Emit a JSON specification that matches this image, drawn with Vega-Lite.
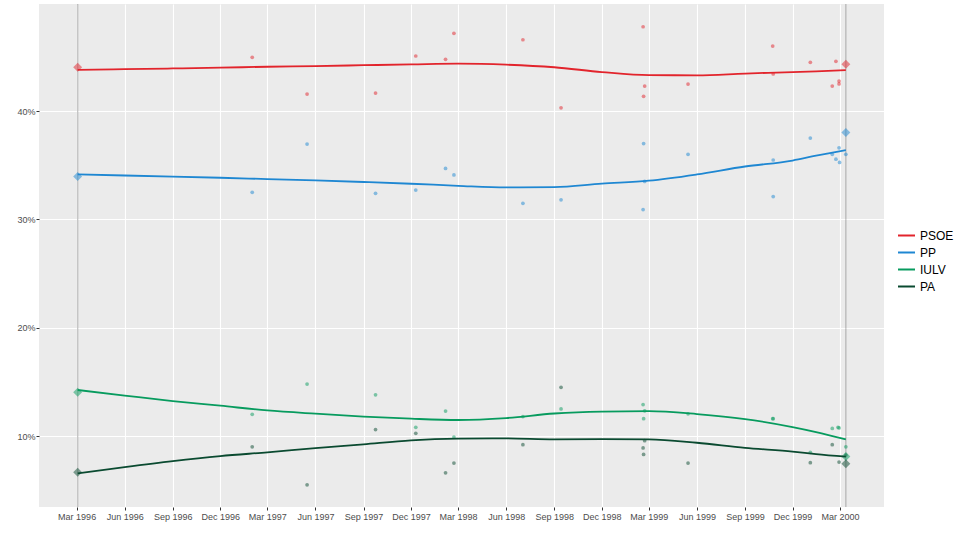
{
  "$schema": "https://vega.github.io/schema/vega-lite/v6.json",
  "width": 845,
  "height": 503,
  "autosize": {"type": "none"},
  "padding": {"left": 39, "top": 4, "right": 76, "bottom": 27},
  "background": "white",
  "config": {
    "font": "Liberation Sans",
    "view": {"fill": "#EBEBEB", "stroke": null},
    "axis": {
      "domain": false,
      "grid": true,
      "gridColor": "#FFFFFF",
      "gridWidth": 1.1,
      "tickColor": "#333333",
      "tickSize": 3,
      "labelColor": "#4D4D4D",
      "labelFontSize": 9,
      "title": null
    }
  },
  "datasets": {
    "elections": [
      {"date": "1996-03-03"},
      {"date": "2000-03-12"}
    ],
    "results": [
      {"date": "1996-03-03", "party": "PSOE", "pct": 44.05},
      {"date": "1996-03-03", "party": "PP", "pct": 33.96},
      {"date": "1996-03-03", "party": "IULV", "pct": 14.05},
      {"date": "1996-03-03", "party": "PA", "pct": 6.66},
      {"date": "2000-03-12", "party": "PSOE", "pct": 44.32},
      {"date": "2000-03-12", "party": "PP", "pct": 38.02},
      {"date": "2000-03-12", "party": "IULV", "pct": 8.11},
      {"date": "2000-03-12", "party": "PA", "pct": 7.44}
    ],
    "polls": [
      {"date": "1997-01-31", "party": "PSOE", "pct": 44.96},
      {"date": "1997-05-16", "party": "PSOE", "pct": 41.57},
      {"date": "1997-09-24", "party": "PSOE", "pct": 41.66},
      {"date": "1997-12-10", "party": "PSOE", "pct": 45.08},
      {"date": "1998-02-05", "party": "PSOE", "pct": 44.77},
      {"date": "1998-02-21", "party": "PSOE", "pct": 47.17},
      {"date": "1998-07-03", "party": "PSOE", "pct": 46.58},
      {"date": "1998-09-14", "party": "PSOE", "pct": 40.3},
      {"date": "1999-02-18", "party": "PSOE", "pct": 47.78},
      {"date": "1999-02-21", "party": "PSOE", "pct": 42.31},
      {"date": "1999-02-19", "party": "PSOE", "pct": 41.36},
      {"date": "1999-05-15", "party": "PSOE", "pct": 42.49},
      {"date": "1999-10-24", "party": "PSOE", "pct": 46.0},
      {"date": "1999-10-25", "party": "PSOE", "pct": 43.42},
      {"date": "2000-01-04", "party": "PSOE", "pct": 44.5},
      {"date": "2000-02-15", "party": "PSOE", "pct": 42.31},
      {"date": "2000-02-22", "party": "PSOE", "pct": 44.59},
      {"date": "2000-02-28", "party": "PSOE", "pct": 42.77},
      {"date": "2000-02-28", "party": "PSOE", "pct": 42.5},
      {"date": "1997-01-31", "party": "PP", "pct": 32.5},
      {"date": "1997-05-16", "party": "PP", "pct": 36.95},
      {"date": "1997-09-24", "party": "PP", "pct": 32.4},
      {"date": "1997-12-10", "party": "PP", "pct": 32.7},
      {"date": "1998-02-05", "party": "PP", "pct": 34.7},
      {"date": "1998-02-21", "party": "PP", "pct": 34.1},
      {"date": "1998-07-03", "party": "PP", "pct": 31.48},
      {"date": "1998-09-14", "party": "PP", "pct": 31.8},
      {"date": "1999-02-19", "party": "PP", "pct": 37.0},
      {"date": "1999-02-21", "party": "PP", "pct": 33.5},
      {"date": "1999-02-18", "party": "PP", "pct": 30.9},
      {"date": "1999-05-15", "party": "PP", "pct": 36.0},
      {"date": "1999-10-25", "party": "PP", "pct": 35.48},
      {"date": "1999-10-25", "party": "PP", "pct": 32.1},
      {"date": "2000-01-04", "party": "PP", "pct": 37.5},
      {"date": "2000-02-28", "party": "PP", "pct": 36.6},
      {"date": "2000-02-15", "party": "PP", "pct": 36.0},
      {"date": "2000-02-22", "party": "PP", "pct": 35.55},
      {"date": "2000-02-29", "party": "PP", "pct": 35.26},
      {"date": "2000-03-12", "party": "PP", "pct": 36.0},
      {"date": "1997-01-31", "party": "IULV", "pct": 12.0},
      {"date": "1997-05-16", "party": "IULV", "pct": 14.8},
      {"date": "1997-09-24", "party": "IULV", "pct": 13.8},
      {"date": "1997-12-10", "party": "IULV", "pct": 10.8},
      {"date": "1998-02-05", "party": "IULV", "pct": 12.3},
      {"date": "1998-02-21", "party": "IULV", "pct": 9.9},
      {"date": "1998-07-03", "party": "IULV", "pct": 11.8},
      {"date": "1998-09-14", "party": "IULV", "pct": 12.5},
      {"date": "1999-02-18", "party": "IULV", "pct": 12.9},
      {"date": "1999-02-21", "party": "IULV", "pct": 12.33},
      {"date": "1999-02-19", "party": "IULV", "pct": 11.6},
      {"date": "1999-05-15", "party": "IULV", "pct": 12.05},
      {"date": "1999-10-24", "party": "IULV", "pct": 11.6},
      {"date": "1999-10-25", "party": "IULV", "pct": 11.6},
      {"date": "2000-01-04", "party": "IULV", "pct": 8.5},
      {"date": "2000-02-15", "party": "IULV", "pct": 10.7},
      {"date": "2000-02-26", "party": "IULV", "pct": 10.8},
      {"date": "2000-02-28", "party": "IULV", "pct": 10.75},
      {"date": "2000-03-12", "party": "IULV", "pct": 9.0},
      {"date": "1997-01-31", "party": "PA", "pct": 9.0},
      {"date": "1997-05-16", "party": "PA", "pct": 5.5},
      {"date": "1997-09-24", "party": "PA", "pct": 10.6},
      {"date": "1997-12-10", "party": "PA", "pct": 10.25},
      {"date": "1998-02-05", "party": "PA", "pct": 6.6},
      {"date": "1998-02-21", "party": "PA", "pct": 7.5},
      {"date": "1998-07-03", "party": "PA", "pct": 9.2},
      {"date": "1998-09-14", "party": "PA", "pct": 14.5},
      {"date": "1999-02-21", "party": "PA", "pct": 9.57},
      {"date": "1999-02-18", "party": "PA", "pct": 8.9},
      {"date": "1999-02-19", "party": "PA", "pct": 8.3},
      {"date": "1999-05-15", "party": "PA", "pct": 7.5},
      {"date": "2000-01-04", "party": "PA", "pct": 7.54},
      {"date": "2000-02-15", "party": "PA", "pct": 9.2},
      {"date": "2000-02-28", "party": "PA", "pct": 7.6},
      {"date": "2000-03-12", "party": "PA", "pct": 8.25}
    ],
    "trend": [
      {"date": "1996-03-03", "party": "PSOE", "pct": 43.8},
      {"date": "1996-06-01", "party": "PSOE", "pct": 43.86},
      {"date": "1996-09-01", "party": "PSOE", "pct": 43.93},
      {"date": "1996-12-01", "party": "PSOE", "pct": 44.0},
      {"date": "1997-03-01", "party": "PSOE", "pct": 44.09},
      {"date": "1997-06-01", "party": "PSOE", "pct": 44.15},
      {"date": "1997-09-01", "party": "PSOE", "pct": 44.23},
      {"date": "1997-12-01", "party": "PSOE", "pct": 44.3},
      {"date": "1998-03-01", "party": "PSOE", "pct": 44.37},
      {"date": "1998-06-01", "party": "PSOE", "pct": 44.28},
      {"date": "1998-09-01", "party": "PSOE", "pct": 44.04},
      {"date": "1998-12-01", "party": "PSOE", "pct": 43.6},
      {"date": "1999-03-01", "party": "PSOE", "pct": 43.31},
      {"date": "1999-06-01", "party": "PSOE", "pct": 43.3},
      {"date": "1999-09-01", "party": "PSOE", "pct": 43.46},
      {"date": "1999-12-01", "party": "PSOE", "pct": 43.6},
      {"date": "2000-01-15", "party": "PSOE", "pct": 43.67},
      {"date": "2000-03-12", "party": "PSOE", "pct": 43.78},
      {"date": "1996-03-03", "party": "PP", "pct": 34.15},
      {"date": "1996-06-01", "party": "PP", "pct": 34.05},
      {"date": "1996-09-01", "party": "PP", "pct": 33.95},
      {"date": "1996-12-01", "party": "PP", "pct": 33.84},
      {"date": "1997-03-01", "party": "PP", "pct": 33.72},
      {"date": "1997-06-01", "party": "PP", "pct": 33.6},
      {"date": "1997-09-01", "party": "PP", "pct": 33.45},
      {"date": "1997-12-01", "party": "PP", "pct": 33.29},
      {"date": "1998-03-01", "party": "PP", "pct": 33.1},
      {"date": "1998-06-01", "party": "PP", "pct": 32.95},
      {"date": "1998-09-01", "party": "PP", "pct": 32.98},
      {"date": "1998-12-01", "party": "PP", "pct": 33.3},
      {"date": "1999-03-01", "party": "PP", "pct": 33.57},
      {"date": "1999-06-01", "party": "PP", "pct": 34.15},
      {"date": "1999-09-01", "party": "PP", "pct": 34.88},
      {"date": "1999-12-01", "party": "PP", "pct": 35.43},
      {"date": "2000-01-15", "party": "PP", "pct": 35.88},
      {"date": "2000-03-12", "party": "PP", "pct": 36.4},
      {"date": "1996-03-03", "party": "IULV", "pct": 14.25},
      {"date": "1996-06-01", "party": "IULV", "pct": 13.74},
      {"date": "1996-09-01", "party": "IULV", "pct": 13.23},
      {"date": "1996-12-01", "party": "IULV", "pct": 12.8},
      {"date": "1997-03-01", "party": "IULV", "pct": 12.36},
      {"date": "1997-06-01", "party": "IULV", "pct": 12.06},
      {"date": "1997-09-01", "party": "IULV", "pct": 11.8},
      {"date": "1997-12-01", "party": "IULV", "pct": 11.6},
      {"date": "1998-03-01", "party": "IULV", "pct": 11.48},
      {"date": "1998-06-01", "party": "IULV", "pct": 11.66},
      {"date": "1998-09-01", "party": "IULV", "pct": 12.08},
      {"date": "1998-12-01", "party": "IULV", "pct": 12.26},
      {"date": "1999-03-01", "party": "IULV", "pct": 12.3},
      {"date": "1999-06-01", "party": "IULV", "pct": 12.03},
      {"date": "1999-09-01", "party": "IULV", "pct": 11.57},
      {"date": "1999-12-01", "party": "IULV", "pct": 10.83},
      {"date": "2000-01-15", "party": "IULV", "pct": 10.37},
      {"date": "2000-03-12", "party": "IULV", "pct": 9.7},
      {"date": "1996-03-03", "party": "PA", "pct": 6.56},
      {"date": "1996-06-01", "party": "PA", "pct": 7.14},
      {"date": "1996-09-01", "party": "PA", "pct": 7.69},
      {"date": "1996-12-01", "party": "PA", "pct": 8.15},
      {"date": "1997-03-01", "party": "PA", "pct": 8.5},
      {"date": "1997-06-01", "party": "PA", "pct": 8.88},
      {"date": "1997-09-01", "party": "PA", "pct": 9.24},
      {"date": "1997-12-01", "party": "PA", "pct": 9.6},
      {"date": "1998-03-01", "party": "PA", "pct": 9.76},
      {"date": "1998-06-01", "party": "PA", "pct": 9.79},
      {"date": "1998-09-01", "party": "PA", "pct": 9.7},
      {"date": "1998-12-01", "party": "PA", "pct": 9.72},
      {"date": "1999-03-01", "party": "PA", "pct": 9.7},
      {"date": "1999-06-01", "party": "PA", "pct": 9.38},
      {"date": "1999-09-01", "party": "PA", "pct": 8.91},
      {"date": "1999-12-01", "party": "PA", "pct": 8.57},
      {"date": "2000-01-15", "party": "PA", "pct": 8.34},
      {"date": "2000-03-12", "party": "PA", "pct": 8.1}
    ]
  },
  "encoding": {
    "x": {
      "field": "date",
      "type": "temporal",
      "scale": {
        "type": "utc",
        "domain": [
          {"year": 1995, "month": 12, "date": 20, "utc": true},
          {"year": 2000, "month": 5, "date": 24, "utc": true}
        ]
      },
      "axis": {
        "labelExpr": "utcFormat(datum.value, '%b %Y')",
        "labelPadding": 2,
        "values": [
          {"year": 1996, "month": 3, "date": 1, "utc": true},
          {"year": 1996, "month": 6, "date": 1, "utc": true},
          {"year": 1996, "month": 9, "date": 1, "utc": true},
          {"year": 1996, "month": 12, "date": 1, "utc": true},
          {"year": 1997, "month": 3, "date": 1, "utc": true},
          {"year": 1997, "month": 6, "date": 1, "utc": true},
          {"year": 1997, "month": 9, "date": 1, "utc": true},
          {"year": 1997, "month": 12, "date": 1, "utc": true},
          {"year": 1998, "month": 3, "date": 1, "utc": true},
          {"year": 1998, "month": 6, "date": 1, "utc": true},
          {"year": 1998, "month": 9, "date": 1, "utc": true},
          {"year": 1998, "month": 12, "date": 1, "utc": true},
          {"year": 1999, "month": 3, "date": 1, "utc": true},
          {"year": 1999, "month": 6, "date": 1, "utc": true},
          {"year": 1999, "month": 9, "date": 1, "utc": true},
          {"year": 1999, "month": 12, "date": 1, "utc": true},
          {"year": 2000, "month": 3, "date": 1, "utc": true}
        ]
      }
    }
  },
  "layer": [
    {
      "data": {"name": "elections"},
      "mark": {"type": "rule", "color": "#555555", "opacity": 0.35, "strokeWidth": 1.3},
      "encoding": {}
    },
    {
      "data": {"name": "polls"},
      "mark": {"type": "point", "filled": true, "shape": "circle", "size": 14, "fillOpacity": 0.5},
      "encoding": {
        "y": {"field": "pct", "type": "quantitative"},
        "color": {"field": "party", "type": "nominal"}
      }
    },
    {
      "data": {"name": "results"},
      "mark": {"type": "point", "filled": true, "shape": "diamond", "size": 80, "fillOpacity": 0.5},
      "encoding": {
        "y": {"field": "pct", "type": "quantitative"},
        "color": {"field": "party", "type": "nominal"}
      }
    },
    {
      "data": {"name": "trend"},
      "mark": {"type": "line", "interpolate": "monotone", "strokeWidth": 1.8},
      "encoding": {
        "y": {
          "field": "pct",
          "type": "quantitative",
          "scale": {"domain": [3.45, 49.88], "nice": false, "zero": false},
          "axis": {
            "values": [10, 20, 30, 40],
            "labelExpr": "datum.value + '%'",
            "labelPadding": 1
          }
        },
        "color": {
          "field": "party",
          "type": "nominal",
          "scale": {
            "domain": ["PSOE", "PP", "IULV", "PA"],
            "range": ["#E2242C", "#1E87D2", "#079B5E", "#0A4A30"]
          },
          "legend": {
            "title": null,
            "orient": "none",
            "legendX": 858,
            "legendY": 222,
            "padding": 0,
            "symbolType": "stroke",
            "symbolSize": 289,
            "symbolStrokeWidth": 2,
            "labelFontSize": 12,
            "labelColor": "#000000",
            "labelOffset": 4,
            "rowPadding": 1,
            "encode": {
              "symbols": {
                "update": {
                  "opacity": {"value": 1},
                  "strokeOpacity": {"value": 1},
                  "fillOpacity": {"value": 1}
                }
              }
            }
          }
        }
      }
    }
  ]
}
